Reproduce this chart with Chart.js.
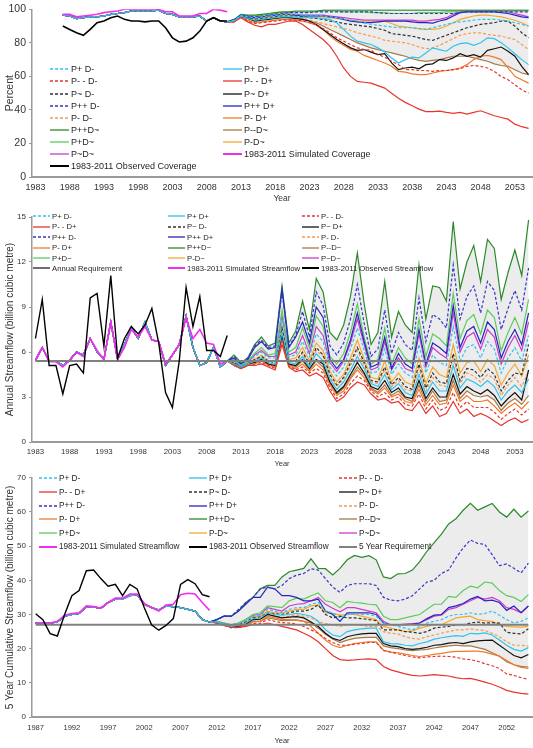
<!DOCTYPE html>
<html>
<head>
<meta charset="utf-8">
<script src="https://cdn.jsdelivr.net/npm/chart.js@4.4.1/dist/chart.umd.min.js"></script>
<style>
  html, body { margin: 0; padding: 0; background: #fff; }
  #wrap { position: relative; width: 533px; height: 748px; overflow: hidden; font-family: 'Liberation Sans', Arial, sans-serif; }
  .panel { position: absolute; left: 0; width: 533px; }
  .lg { position: absolute; display: flex; align-items: center; white-space: nowrap; color: #262626; height: 10px; }
  .lg svg { flex: none; margin-right: 2px; }
</style>
</head>
<body>
<div id="wrap">
  <div class="panel" style="top:0;height:205px"><canvas id="cov"></canvas></div>
  <div class="panel" style="top:205px;height:265px"><canvas id="flow"></canvas></div>
  <div class="panel" style="top:470px;height:278px"><canvas id="cum"></canvas></div>
</div>
<script>
(function () {
  'use strict';

  const FONT = "'Liberation Sans', Arial, sans-serif";
  const TEXT = '#333333';
  const AXIS = '#9a9a9a';
  const END_YEAR = 2055;

  // scenario names, in legend order
  const SCENARIOS = ['P+ D-', 'P+ D+', 'P- - D-', 'P- - D+', 'P~ D-', 'P~ D+', 'P++ D-', 'P++ D+',
    'P- D-', 'P- D+', 'P++D~', 'P--D~', 'P+D~', 'P-D~', 'P~D~'];

  // ---------- Panel 1: coverage (percent), 1987-2011 history, 2012-2055 projections ----------
  const covHist = [96.5, 96, 94.5, 95, 95.5, 95.5, 96, 97, 97.5, 98, 99, 99, 99, 99, 99.5, 97.5, 97, 95.5, 95.5, 95.5, 96, 93, 95, 93, 92.5];
  const covSimulated = [97, 97, 95.5, 96, 96.5, 97, 98, 98.5, 99, 100, 100, 100, 100, 100, 100, 98.5, 98.5, 96, 96, 96, 97.5, 97.5, 100, 99.5, 98.5];
  const covObserved = [90, 88, 86, 84.5, 88, 92, 93, 95, 96, 94, 93, 93, 92.5, 93, 93, 89, 83, 80.5, 81, 83, 87, 93, 95, 93, 93];

  const cov_PpDm = [93.5, 96.5, 95.5, 95, 95.5, 96, 96.5, 97, 97, 97, 96.5, 96.5, 96.5, 96, 95.5, 95, 94, 93.5, 93, 92,
    91, 90.5, 90, 89.5, 89, 89, 89, 88.5, 88, 89, 90, 91, 92, 92.5, 93, 93.5, 94, 94, 94, 93.5, 93, 92, 91, 90];
  const cov_PpDp = [93, 96, 94.5, 93.5, 94, 94.5, 95, 95.5, 95.5, 95.5, 95, 95, 95, 94.5, 94, 92, 88, 84, 81, 80,
    79, 77, 74.5, 71, 68, 70, 71.5, 71, 74, 77, 76, 75, 78, 79.5, 80, 78.5, 80, 83, 82.5, 80, 77, 73.5, 70, 67];
  const cov_PmmDm = [92.5, 95.5, 93, 91.5, 92, 92.5, 93, 93.5, 93.5, 93.5, 93, 92, 91, 88.5, 86, 83, 81, 79, 77, 76,
    75.5, 73, 71.5, 69, 67, 64, 64, 63.5, 63.5, 63, 63.5, 63.5, 64, 64.5, 66, 66.5, 66, 65, 63, 60, 58, 55, 52, 50];
  const cov_PmmDp = [92.5, 95, 92.5, 90.5, 89.5, 91, 91, 92, 93, 93, 91, 88, 85, 82, 78, 72, 65, 60, 57, 56.5,
    56, 54.5, 53, 50, 47, 44.5, 42.5, 40.5, 39, 39, 39.3, 38.5, 38, 38.5, 37.5, 38.5, 39.5, 38, 36.5, 35.5, 34.5, 31.5, 30, 29];
  const cov_PzDm = [93, 96, 95, 94, 94.5, 95, 95.5, 96, 96, 96, 95.5, 95, 94.5, 94, 93, 92.5, 91.5, 91, 90.5, 90,
    89.5, 88.5, 87.5, 85.5, 85, 84.5, 84, 83, 82, 81.5, 83, 84.5, 86, 87.5, 89, 90, 91, 91.5, 92, 93, 93, 90, 86, 83];
  const cov_PzDp = [93, 96, 94.5, 93, 93.5, 94, 94.5, 95, 95, 94.5, 94, 93, 91, 88, 85, 82, 79.5, 77, 75.5, 76,
    74.5, 73, 73.5, 68, 64, 65, 65.5, 64.5, 67, 67.5, 70, 69.5, 71, 73.5, 72, 73, 71.5, 75.5, 76.5, 77.5, 75, 72, 66, 61];
  const cov_PppDm = [94, 96.5, 96, 95.5, 96, 96.5, 97, 97.5, 98, 98, 98, 98, 98.5, 98.5, 98.5, 98.5, 98.5, 98.5, 98.5, 98.5,
    98.5, 98, 97.5, 97.5, 97.5, 97.5, 97.5, 97.5, 97.5, 97.5, 97.5, 97.5, 97.5, 98, 98.5, 98.5, 98.5, 98.5, 98.5, 98.5, 98.5, 98.5, 98.5, 98.5];
  const cov_PppDp = [93.5, 96.5, 95.5, 95, 95.5, 96, 96.5, 97, 97, 96.5, 96, 96, 96, 96, 95.5, 95, 94, 93, 92.5, 92,
    92, 92.5, 93, 93, 93, 93, 92.5, 92, 92, 91.8, 93, 94, 96, 98, 98.5, 98.5, 98.5, 98.5, 98.5, 98, 97.5, 96.5, 95.5, 95];
  const cov_PmDm = [93, 95.5, 94.5, 93.5, 94, 94.5, 95, 95.5, 95.5, 95, 94.5, 93.5, 92.5, 91.5, 90.5, 89.5, 88.5, 87.5, 86, 85,
    84, 83, 81.5, 81, 80.5, 80, 79, 77.5, 76.5, 77, 78.5, 80.5, 82.5, 84.5, 85.5, 86, 86, 85, 84.5, 84, 83, 82, 79, 76];
  const cov_PmDp = [92.5, 95.5, 93.5, 92, 92.5, 93, 93.5, 94, 94, 93.5, 93, 92, 90.5, 88, 84, 81, 78.5, 76, 75, 72.5,
    71, 69.5, 68, 66, 63, 62.5, 61.5, 61, 61, 62, 63, 63.5, 64, 65, 67, 70, 72, 72.5, 71.5, 70, 65, 60, 58, 56];
  const cov_PppDz = [94, 97, 96.5, 96.5, 97, 97.5, 98, 98.5, 98.5, 99, 99, 99, 99, 99.5, 99.5, 99.5, 99.5, 99.5, 99.5, 99.5,
    99.5, 99.5, 99.5, 99.5, 99.5, 99.5, 99.5, 99.5, 99.5, 99.5, 99.5, 99.5, 99.5, 99.5, 99.5, 99.5, 99.5, 99.5, 99.5, 99.5, 99.5, 99.5, 99.5, 99.5];
  const cov_PmmDz = [93, 95.5, 94.5, 93.5, 94, 94.5, 95, 95.5, 95, 94.5, 94, 93, 92, 90, 88, 86, 84, 82, 80, 78.5,
    77, 76, 75, 74, 73, 72, 70.5, 69.5, 69, 69.5, 70, 71, 72, 72, 72, 71, 70, 69, 67.5, 66.5, 66, 64, 62, 61];
  const cov_PpDz = [93.5, 96.5, 96, 96, 96.5, 97, 97.5, 98, 98, 98.5, 98.5, 98.5, 98.5, 99, 99, 99, 98.5, 98.5, 98.5, 98.5,
    98, 98, 98, 97.5, 97.5, 97.5, 97.5, 98, 98, 98, 98, 98.5, 98.5, 99, 99, 99, 99, 99, 99, 99, 99, 99, 99, 99];
  const cov_PmDz = [93, 96, 95, 94.5, 95, 95.5, 96, 96.5, 96.5, 96.5, 96, 96, 96, 95.5, 95, 94.5, 94, 93.5, 93, 92.5,
    92.5, 92.5, 93, 91.5, 90, 89.5, 89, 88.5, 88, 88, 88.5, 90, 92, 94, 95, 96, 96.5, 96.5, 96, 95.5, 94.5, 93.5, 92, 90];
  const cov_PzDz = [93.5, 96.5, 95.5, 95, 95.5, 96, 96.5, 97, 97, 97, 96.5, 96.5, 96.5, 96.5, 96, 95.5, 95, 94.5, 94, 93.5,
    93.5, 93.5, 93.5, 93.5, 93.5, 93.5, 93.5, 93, 93, 93.5, 94, 95, 97, 98.5, 99, 99, 99, 99, 99, 99, 98.5, 97.5, 96.5, 95.5];

  // ---------- Panel 2: annual streamflow (billion m3), 1983-2011 history, 2012-2055 projections ----------
  const ANNUAL_REQUIREMENT = 5.4;
  const flowHist = [5.45, 6.3, 5.4, 5.4, 5.1, 5.45, 6.0, 5.8, 6.9, 6.0, 5.5, 8.0, 5.5, 6.5, 7.6, 6.9, 8.0, 6.8, 6.7, 5.1, 5.8, 6.5, 8.4, 6.3, 5.1, 5.3, 6.3, 5.0, 5.4];
  const flowSimulated = [5.45, 6.3, 5.35, 5.35, 5.0, 5.45, 6.0, 5.7, 6.9, 6.1, 5.5, 8.0, 5.5, 6.3, 7.5, 7.0, 7.7, 6.8, 6.7, 5.2, 5.8, 6.5, 8.3, 6.9, 7.5, 6.6, 6.5, 5.2, 5.4];
  const flowObserved = [6.9, 9.5, 5.1, 5.1, 3.2, 5.1, 5.2, 4.6, 9.6, 9.9, 6.4, 11.1, 5.6, 6.9, 7.7, 7.2, 7.8, 8.9, 6.6, 3.3, 2.3, 5.4, 10.3, 7.7, 9.7, 6.1, 6.1, 5.7, 7.1];

  const flow_PpDm = [5.4, 5.1, 5.3, 5.7, 6.0, 5.6, 5.6, 8.1, 5.7, 5.8, 6.7, 5.7, 7.2, 6.7, 5.0, 4.4, 5.0, 6.2, 7.6, 6.1,
    4.6, 4.7, 6.2, 4.5, 5.2, 4.6, 4.3, 6.5, 4.6, 5.8, 5.3, 5.1, 7.7, 5.4, 6.3, 6.5, 5.6, 6.7, 6.2, 4.6, 5.6, 6.3, 5.4, 7.1];
  const flow_PpDp = [5.2, 5.0, 5.2, 5.4, 5.6, 5.3, 5.2, 7.3, 5.3, 5.2, 5.7, 5.0, 5.9, 5.4, 4.2, 3.5, 4.0, 4.8, 5.7, 4.9,
    3.9, 3.7, 4.5, 3.5, 3.9, 3.3, 3.1, 4.5, 3.2, 4.0, 3.4, 3.4, 5.1, 3.6, 4.2, 4.0, 3.7, 4.1, 3.7, 2.8, 3.4, 3.8, 3.3, 4.2];
  const flow_PmmDm = [5.1, 4.9, 5.1, 5.2, 5.3, 5.1, 4.9, 6.7, 5.1, 4.8, 5.0, 4.6, 4.9, 4.6, 3.6, 2.9, 3.2, 3.9, 4.4, 4.1,
    3.4, 3.0, 3.3, 2.8, 3.0, 2.5, 2.4, 3.2, 2.2, 2.8, 2.1, 2.3, 3.3, 2.3, 2.7, 2.3, 2.3, 2.3, 2.0, 1.5, 1.9, 2.2, 1.8, 2.2];
  const flow_PmmDp = [5.1, 4.9, 5.1, 5.1, 5.2, 5.0, 4.8, 6.5, 5.0, 4.7, 4.8, 4.4, 4.6, 4.3, 3.4, 2.7, 3.0, 3.6, 4.0, 3.8,
    3.2, 2.8, 2.9, 2.6, 2.7, 2.2, 2.1, 2.7, 1.9, 2.4, 1.7, 1.9, 2.7, 1.9, 2.2, 1.7, 1.9, 1.7, 1.4, 1.1, 1.4, 1.6, 1.3, 1.5];
  const flow_PzDm = [5.3, 5.0, 5.2, 5.5, 5.7, 5.4, 5.3, 7.6, 5.4, 5.4, 6.0, 5.2, 6.3, 5.8, 4.5, 3.8, 4.3, 5.3, 6.3, 5.3,
    4.1, 4.0, 5.0, 3.8, 4.3, 3.7, 3.5, 5.2, 3.6, 4.6, 4.0, 3.9, 5.9, 4.1, 4.9, 4.8, 4.3, 4.9, 4.5, 3.4, 4.1, 4.6, 4.5, 6.5];
  const flow_PzDp = [5.2, 5.0, 5.2, 5.3, 5.5, 5.2, 5.1, 7.1, 5.2, 5.1, 5.5, 4.9, 5.5, 5.2, 4.0, 3.3, 3.7, 4.5, 5.3, 4.6,
    3.7, 3.5, 4.1, 3.3, 3.6, 3.0, 2.9, 4.1, 2.9, 3.6, 3.0, 3.0, 4.5, 3.2, 3.7, 3.4, 3.2, 3.5, 3.1, 2.4, 2.9, 3.3, 2.8, 4.8];
  const flow_PppDm = [5.7, 5.3, 5.6, 6.4, 6.8, 6.3, 6.4, 10.0, 6.4, 7.1, 8.7, 7.0, 10.0, 9.1, 6.4, 5.8, 6.6, 8.2, 10.5, 7.9,
    5.7, 6.2, 8.8, 5.9, 7.3, 6.5, 6.1, 9.6, 6.7, 8.5, 8.2, 7.6, 11.8, 8.2, 9.7, 10.4, 8.6, 10.7, 10.1, 7.5, 8.9, 10.1, 8.8, 11.6];
  const flow_PppDp = [5.6, 5.2, 5.5, 6.3, 6.7, 6.2, 6.3, 10.2, 6.3, 7.0, 8.0, 6.6, 9.0, 8.3, 5.5, 4.9, 5.5, 6.8, 8.6, 6.7,
    5.0, 5.2, 7.0, 4.9, 5.9, 5.2, 4.9, 7.5, 5.2, 6.6, 6.3, 5.9, 9.1, 6.3, 7.4, 7.7, 6.6, 8.0, 7.5, 5.6, 6.7, 7.5, 6.5, 8.6];
  const flow_PmDm = [5.3, 5.0, 5.2, 5.4, 5.6, 5.3, 5.2, 7.4, 5.4, 5.3, 5.9, 5.1, 6.1, 5.7, 4.3, 3.7, 4.2, 5.1, 6.1, 5.1,
    4.0, 3.9, 4.8, 3.7, 4.1, 3.5, 3.4, 4.9, 3.4, 4.3, 3.8, 3.7, 5.6, 3.9, 4.6, 4.4, 4.0, 4.5, 4.2, 3.1, 3.8, 4.3, 3.7, 4.7];
  const flow_PmDp = [5.2, 4.9, 5.1, 5.2, 5.4, 5.1, 5.0, 6.9, 5.1, 4.9, 5.2, 4.7, 5.2, 4.8, 3.8, 3.1, 3.4, 4.2, 4.8, 4.3,
    3.5, 3.2, 3.6, 3.0, 3.2, 2.7, 2.6, 3.5, 2.5, 3.1, 2.5, 2.6, 3.8, 2.7, 3.1, 2.7, 2.7, 2.8, 2.4, 1.9, 2.3, 2.6, 2.2, 2.7];
  const flow_PppDz = [5.8, 5.3, 5.6, 6.5, 7.0, 6.4, 6.6, 10.4, 6.6, 7.4, 9.4, 7.5, 10.9, 10.0, 7.3, 6.8, 7.8, 9.7, 12.6, 9.2,
    6.5, 7.3, 10.7, 7.0, 8.7, 7.8, 7.3, 11.8, 8.2, 10.4, 10.3, 9.4, 14.7, 10.2, 12.0, 13.1, 10.7, 13.5, 12.9, 9.5, 11.3, 12.8, 11.1, 14.8];
  const flow_PmmDz = [5.2, 5.0, 5.2, 5.3, 5.4, 5.2, 5.0, 7.0, 5.2, 5.0, 5.4, 4.8, 5.4, 5.0, 3.9, 3.2, 3.6, 4.3, 5.0, 4.5,
    3.6, 3.3, 3.8, 3.1, 3.4, 2.9, 2.7, 3.8, 2.7, 3.4, 2.7, 2.8, 4.1, 2.9, 3.4, 3.1, 3.0, 3.1, 2.8, 2.1, 2.6, 2.9, 2.5, 3.1];
  const flow_PpDz = [5.5, 5.1, 5.4, 5.9, 6.3, 5.8, 5.9, 8.8, 6.0, 6.3, 7.6, 6.3, 8.4, 7.7, 5.7, 5.2, 5.9, 7.3, 9.2, 7.0,
    5.2, 5.5, 7.6, 5.2, 6.3, 5.6, 5.2, 8.2, 5.7, 7.2, 6.9, 6.4, 9.9, 6.9, 8.1, 8.5, 7.2, 8.8, 8.3, 6.1, 7.3, 8.3, 7.2, 9.5];
  const flow_PmDz = [5.3, 5.0, 5.3, 5.5, 5.8, 5.4, 5.4, 7.7, 5.5, 5.6, 6.3, 5.4, 6.6, 6.1, 4.7, 4.0, 4.5, 5.6, 6.8, 5.5,
    4.3, 4.2, 5.4, 4.0, 4.6, 4.0, 3.8, 5.6, 3.9, 5.0, 4.5, 4.3, 6.5, 4.6, 5.3, 5.4, 4.7, 5.5, 5.1, 3.8, 4.6, 5.2, 4.4, 5.8];
  const flow_PzDz = [5.4, 5.1, 5.3, 5.8, 6.1, 5.7, 5.7, 8.4, 5.8, 6.0, 7.1, 5.9, 7.7, 7.1, 5.3, 4.7, 5.4, 6.6, 8.2, 6.5,
    4.8, 5.0, 6.7, 4.8, 5.6, 4.9, 4.7, 7.2, 5.0, 6.3, 5.9, 5.6, 8.6, 6.0, 7.0, 7.3, 6.2, 7.5, 7.0, 5.2, 6.3, 7.1, 6.1, 8.0];

  // ---------- Panel 3: 5-year cumulative streamflow, 1987-2011 history, 2012-2055 projections ----------
  const FIVE_YEAR_REQUIREMENT = 27.0;
  const cumHist = [27.5, 27.5, 27.5, 27.8, 29.5, 30, 30.3, 32.3, 32.2, 31.8, 33.5, 34.5, 34.5, 35.5, 35.8, 33, 32, 31.3, 32.5, 32.3, 32, 31.5, 31, 28.5, 27.8];
  const cumSimulated = [27.5, 27.5, 27.5, 28, 29.8, 30.3, 30.5, 32.5, 32.3, 31.8, 33.5, 34.8, 34.8, 36, 36, 33.2, 32, 31, 32.8, 33, 35.8, 36.2, 36, 33.5, 31.2];
  const cumObserved = [30.2, 28.5, 24.4, 23.7, 30, 35.5, 37, 42.8, 43, 40.5, 38.3, 38.8, 35.5, 38.8, 37.5, 32, 27, 25.4, 26.8, 28.8, 38.8, 40.2, 39, 35.8, 35.2];

  const cum_PpDm = [28, 27.3, 26.8, 27.3, 28.2, 29.5, 29.8, 31.5, 31, 30.5, 31.5, 32, 32, 33, 33.5, 31, 30.5, 29, 30, 30.2,
    30, 30, 29.5, 27.5, 27, 26.5, 26, 25.5, 26.5, 27.5, 28, 28.5, 29.5, 30, 30, 30.5, 30, 30.3, 31, 29.8, 28.5, 27.5, 28, 29];
  const cum_PpDp = [27.8, 27, 26.5, 26.8, 27.5, 28.8, 29, 30.5, 30, 29.8, 30, 30.3, 30, 29.5, 28, 25.5, 24, 23.5, 25, 25.5,
    25.8, 26, 26, 22, 21.5, 21.4, 21, 20.8, 21.5, 22, 22.8, 23.2, 23.5, 23.8, 23.6, 24.5, 24.3, 24.6, 24, 22.5, 21, 19.8, 19.3, 20.3];
  const cum_PmmDm = [27.5, 26.8, 26.1, 26.2, 26.6, 27.4, 27.4, 28.5, 28, 27.6, 27.5, 27.2, 26.5, 25.5, 24.5, 23, 21.8, 21, 21, 21.3,
    21.5, 21.8, 21.8, 19.5, 19, 18.5, 18, 17.6, 17.3, 17.6, 17.7, 17.8, 17.7, 17.5, 17, 16.8, 16.3, 15.6, 15, 14.2, 12.6, 12.2, 11.5, 11];
  const cum_PmmDp = [27.5, 27, 26.2, 26.2, 26.5, 27, 27, 27.5, 27, 26.5, 26, 25.5, 24.5, 23.5, 22, 20, 18, 16.8, 16.6, 16.7,
    16.9, 17, 16.8, 14.8, 13.8, 13.2, 12.6, 12.2, 12, 12.2, 12.4, 12.2, 12, 11.5, 11.2, 11.3, 10.8, 10.2, 9.6, 8.8, 7.8, 7.3, 6.9, 6.7];
  const cum_PzDm = [27.8, 27.2, 26.7, 27, 27.8, 29, 29.2, 30.5, 30.2, 30, 30.5, 31, 31, 31.5, 32.8, 30, 29, 29.5, 29, 29,
    28.8, 28.5, 28.2, 25.5, 25.5, 25.5, 25, 24.8, 24.5, 25, 26, 26.3, 26.5, 27, 27, 27.5, 27.8, 27.5, 27.6, 27.5, 24.8, 24.5, 24.3, 25.8];
  const cum_PzDp = [27.6, 27, 26.4, 26.6, 27.2, 28.5, 28.6, 30, 29.5, 29, 29.2, 29.4, 29, 27.8, 26.5, 24.5, 23, 22.4, 23.5, 24,
    24.3, 24.5, 24.5, 21.5, 20.8, 20.6, 20, 19.8, 20, 20.4, 21, 21.2, 21.6, 21.8, 21.5, 22, 22.3, 22.4, 22.5, 21, 19.5, 18, 17.3, 18.3];
  const cum_PppDm = [28.5, 29.5, 29.5, 31.5, 33.5, 35, 37.5, 38, 37.5, 38.5, 40.5, 41.5, 42, 43.4, 43, 40.5, 38, 36.5, 38.5, 39,
    39, 39, 38.5, 35, 34.2, 34, 34.5, 35.5, 37.5, 39.5, 40, 42, 43, 46.5, 49.5, 51.8, 50.8, 50.5, 47.5, 44.3, 44.8, 43.5, 42.2, 45];
  const cum_PppDp = [28.5, 29.5, 29.5, 31, 33, 35, 35, 38, 37.5, 35.5, 35.5, 35, 34, 34, 34.5, 31, 30, 28, 30.5, 30.5,
    30.5, 30.5, 30, 27.5, 27, 27, 27, 27.2, 27.5, 28.8, 29.8, 30, 32, 32.5, 33.2, 34.5, 35.3, 34, 34.2, 33.5, 31.2, 32.5, 30.5, 32.5];
  const cum_PmDm = [27.8, 27.1, 26.5, 26.8, 27.5, 28.5, 28.8, 30, 29.5, 29.2, 29.5, 29.8, 29.5, 29, 28, 27.3, 27, 26.5, 27, 27,
    26.8, 26.5, 26.5, 25, 24.5, 24.3, 23.5, 23, 22.8, 23.5, 24, 24.5, 25, 25.5, 25.5, 25.8, 25.5, 25.3, 24.5, 23.5, 22, 21, 21, 20.8];
  const cum_PmDp = [27.5, 26.8, 26.2, 26.3, 26.8, 27.8, 28, 29.5, 29, 28.5, 28.5, 28.3, 28, 26.5, 24.5, 22.5, 21, 20.3, 21, 21.5,
    21.8, 22, 22, 19.5, 19, 18.8, 18.4, 18, 17.7, 18, 18.3, 18.6, 19, 19.2, 19.2, 19.3, 19.3, 19, 18.4, 17.8, 16.5, 15.3, 14.5, 14.2];
  const cum_PppDz = [28.5, 29.5, 29.5, 31, 33.5, 35, 37.5, 38.5, 38.5, 41, 42.5, 43, 43.5, 46.3, 43.5, 43.4, 41.6, 43.5, 46, 47.3,
    46.7, 47.2, 46, 41, 40.5, 41.9, 42, 43, 45.5, 48.5, 51, 53.5, 56.5, 58, 60.5, 62.5, 60.5, 61.5, 62.5, 60, 58.5, 60.8, 58.5, 60.3];
  const cum_PmmDz = [27.6, 27, 26.3, 26.5, 27, 28, 28, 29, 28.6, 28.2, 28.3, 28.4, 28, 27.5, 26, 24.2, 22.8, 21.8, 22.5, 23,
    23.2, 23.3, 23.3, 20.8, 20.3, 20, 19.6, 19.4, 19.6, 19.8, 20.2, 20.5, 20.8, 21, 20.8, 20.8, 20.3, 19.8, 18.8, 17.8, 16.2, 15.3, 14.8, 14.6];
  const cum_PpDz = [28, 27.5, 27, 27.5, 28.5, 30, 30.5, 32.5, 32.3, 32, 34, 34.8, 34.5, 35.5, 36.3, 34, 33.5, 32, 33.8, 33.5,
    33.3, 33, 32.8, 29.5, 28.5, 28.5, 29, 29.5, 30, 31.5, 33, 33, 35.3, 35, 37, 38.3, 37.8, 39.5, 39.2, 37, 35.5, 35, 33.8, 35.8];
  const cum_PmDz = [28, 27.3, 26.8, 27.2, 28, 29.3, 29.5, 31, 30.5, 30.5, 31, 31.5, 31.5, 32.5, 32.8, 30.5, 30.3, 29.8, 30, 30,
    29.5, 29, 28.5, 26.5, 26, 25.5, 25, 25.2, 26, 26.5, 27, 27, 28, 29, 29.3, 29.5, 28.5, 28.2, 28, 27, 26.5, 26.4, 26.3, 26.5];
  const cum_PzDz = [28, 27.5, 27, 27.5, 28.5, 29.8, 30, 32, 31.5, 31, 32.5, 33, 33.2, 34, 35, 33, 31.8, 30.8, 32, 32,
    31.5, 31, 30.5, 28, 27, 27, 27.2, 27.3, 27.5, 28.5, 29.5, 29.8, 31.5, 32, 33, 34, 35, 34.5, 35, 34, 32, 31.5, 30.5, 32.5];

  // ---------- styles ----------
  const SCEN_COLORS = ['#2fc3ee', '#2fc3ee', '#e8352c', '#e8352c', '#303030', '#111111', '#3535cc', '#2626bf',
    '#f59a50', '#f07a2a', '#2a8a2a', '#a87848', '#5ccc5c', '#f2a92e', '#cc3ccc'];
  const SCEN_DASHED = [true, false, true, false, true, false, true, false, true, false, false, false, false, false, false];
  const DASH = [3, 2];
  const SIM_COLOR = '#f02ef0';
  const REQ_COLOR = '#808080';

  function yearsFrom(start) {
    const out = [];
    for (let y = start; y <= END_YEAR; y++) out.push(y);
    return out;
  }
  function placeOn(years, arr, from) {
    return years.map(y => { const i = y - from; return (i >= 0 && i < arr.length) ? arr[i] : null; });
  }
  function line(label, data, color, width, dash) {
    return { label, data, borderColor: color, backgroundColor: color, borderWidth: width, borderDash: dash || [],
      pointRadius: 0, pointHoverRadius: 0, tension: 0, fill: false, spanGaps: false };
  }

  function buildPanel(cfg) {
    const years = yearsFrom(cfg.start);
    const datasets = [];
    cfg.extras.forEach(e => datasets.push(line(e.label, placeOn(years, e.data, e.from), e.color, e.width)));
    const first = datasets.length;
    cfg.proj.forEach((p, k) => {
      datasets.push(line(SCENARIOS[k], placeOn(years, cfg.hist.concat(p), cfg.histStart), SCEN_COLORS[k], 1.2, SCEN_DASHED[k] ? DASH : []));
    });
    // grey envelope between P++D~ and P--D~
    const top = datasets[first + 10];
    top.fill = { target: first + 11 };
    top.backgroundColor = '#ececec';

    new Chart(document.getElementById(cfg.id), {
      type: 'line',
      data: { labels: years, datasets },
      options: {
        responsive: true, maintainAspectRatio: false, animation: false,
        layout: { padding: cfg.padding },
        plugins: { legend: { display: false }, tooltip: { enabled: false },
          filler: { propagate: false, drawTime: 'beforeDatasetsDraw' } },
        scales: {
          x: {
            type: 'category', offset: true,
            grid: { display: false, drawTicks: false },
            border: { display: true, color: AXIS, width: 2 },
            ticks: { autoSkip: false, maxRotation: 0, padding: cfg.xPad, color: TEXT,
              font: { family: FONT, size: cfg.xFont },
              callback: (v, i) => ((years[i] - cfg.start) % 5 === 0 ? String(years[i]) : null) },
            title: { display: true, text: 'Year', color: TEXT, font: { family: FONT, size: cfg.yearFont }, padding: { top: 0, bottom: cfg.yearPad } },
            afterFit: s => { s.height = cfg.xHeight; }
          },
          y: {
            min: 0, max: cfg.yMax,
            grid: { display: true, drawOnChartArea: false, drawTicks: true, tickLength: 3, color: AXIS },
            border: { display: true, color: AXIS, width: 1.5 },
            ticks: { stepSize: cfg.yStep, padding: 3, color: TEXT, font: { family: FONT, size: cfg.yFont } },
            title: { display: true, text: cfg.yTitle, color: TEXT, font: { family: FONT, size: cfg.titleFont }, padding: { top: 4, bottom: 0 } },
            afterFit: s => { s.width = 32; }
          }
        }
      }
    });

    // legend drawn as real text over the plot
    const wrap = document.getElementById('wrap');
    const items = SCENARIOS.map((name, k) => ({ name, color: SCEN_COLORS[k], dash: SCEN_DASHED[k] ? DASH : [], width: 1.3 }))
      .concat(cfg.legendExtras);
    const L = cfg.legend;
    items.forEach((it, i) => {
      const col = i % L.cols, row = Math.floor(i / L.cols);
      const d = document.createElement('div');
      d.className = 'lg';
      d.style.left = L.x[col] + 'px';
      d.style.top = (L.y0 + row * L.dy - 5) + 'px';
      d.style.fontSize = L.font + 'px';
      const ns = 'http://www.w3.org/2000/svg';
      const svg = document.createElementNS(ns, 'svg');
      svg.setAttribute('width', L.len); svg.setAttribute('height', 6);
      const ln = document.createElementNS(ns, 'line');
      ln.setAttribute('x1', 0); ln.setAttribute('y1', 3); ln.setAttribute('x2', L.len); ln.setAttribute('y2', 3);
      ln.setAttribute('stroke', it.color); ln.setAttribute('stroke-width', it.width);
      if (it.dash.length) ln.setAttribute('stroke-dasharray', it.dash.join(','));
      svg.appendChild(ln);
      const sp = document.createElement('span');
      sp.textContent = it.name;
      d.appendChild(svg); d.appendChild(sp);
      wrap.appendChild(d);
    });
  }

  const covProj = [cov_PpDm, cov_PpDp, cov_PmmDm, cov_PmmDp, cov_PzDm, cov_PzDp, cov_PppDm, cov_PppDp,
    cov_PmDm, cov_PmDp, cov_PppDz, cov_PmmDz, cov_PpDz, cov_PmDz, cov_PzDz];
  const flowProj = [flow_PpDm, flow_PpDp, flow_PmmDm, flow_PmmDp, flow_PzDm, flow_PzDp, flow_PppDm, flow_PppDp,
    flow_PmDm, flow_PmDp, flow_PppDz, flow_PmmDz, flow_PpDz, flow_PmDz, flow_PzDz];
  const cumProj = [cum_PpDm, cum_PpDp, cum_PmmDm, cum_PmmDp, cum_PzDm, cum_PzDp, cum_PppDm, cum_PppDp,
    cum_PmDm, cum_PmDp, cum_PppDz, cum_PmmDz, cum_PpDz, cum_PmDz, cum_PzDz];

  function init() {
    buildPanel({
      id: 'cov', start: 1983, histStart: 1987, hist: covHist, proj: covProj,
      extras: [
        { label: '1983-2011 Observed Coverage', data: covObserved, from: 1987, color: '#000000', width: 1.6 },
        { label: '1983-2011 Simulated Coverage', data: covSimulated, from: 1987, color: SIM_COLOR, width: 1.6 }
      ],
      legendExtras: [
        { name: '1983-2011 Simulated Coverage', color: SIM_COLOR, dash: [], width: 2 },
        { name: '1983-2011 Observed Coverage', color: '#000000', dash: [], width: 2 }
      ],
      padding: { top: 4, right: 1, left: 0, bottom: 0 },
      yMax: 100, yStep: 20, yTitle: 'Percent', yFont: 10.5, titleFont: 10.5,
      xFont: 9, xPad: 5, xHeight: 28, yearFont: 8.5, yearPad: 1,
      legend: { cols: 2, x: [50, 223], y0: 69.3, dy: 12.1, len: 19, font: 9 }
    });

    const flowYears = yearsFrom(1983);
    buildPanel({
      id: 'flow', start: 1983, histStart: 1983, hist: flowHist, proj: flowProj,
      extras: [
        { label: '1983-2011 Observed Streamflow', data: flowObserved, from: 1983, color: '#000000', width: 1.4 },
        { label: 'Annual Requirement', data: flowYears.map(() => ANNUAL_REQUIREMENT), from: 1983, color: REQ_COLOR, width: 2 },
        { label: '1983-2011 Simulated Streamflow', data: flowSimulated, from: 1983, color: SIM_COLOR, width: 1.6 }
      ],
      legendExtras: [
        { name: 'Annual Requirement', color: '#404040', dash: [], width: 1.5 },
        { name: '1983-2011 Simulated Streamflow', color: SIM_COLOR, dash: [], width: 2 },
        { name: '1983-2011 Observed Streamflow', color: '#000000', dash: [], width: 2 }
      ],
      padding: { top: 12, right: 1, left: 0, bottom: 0 },
      yMax: 15, yStep: 3, yTitle: 'Annual Streamflow (billion cubic metre)', yFont: 8, titleFont: 10,
      xFont: 7.8, xPad: 5, xHeight: 28, yearFont: 7.5, yearPad: 2,
      legend: { cols: 3, x: [33, 168, 302], y0: 216.2, dy: 10.45, len: 17, font: 7.7 }
    });

    const cumYears = yearsFrom(1987);
    buildPanel({
      id: 'cum', start: 1987, histStart: 1987, hist: cumHist, proj: cumProj,
      extras: [
        { label: '1983-2011 Observed Streamflow', data: cumObserved, from: 1987, color: '#000000', width: 1.4 },
        { label: '5 Year Requirement', data: cumYears.map(() => FIVE_YEAR_REQUIREMENT), from: 1987, color: REQ_COLOR, width: 2 },
        { label: '1983-2011 Simulated Streamflow', data: cumSimulated, from: 1987, color: SIM_COLOR, width: 1.6 }
      ],
      legendExtras: [
        { name: '1983-2011 Simulated Streamflow', color: SIM_COLOR, dash: [], width: 2 },
        { name: '1983-2011 Observed Streamflow', color: '#000000', dash: [], width: 2 },
        { name: '5 Year Requirement', color: REQ_COLOR, dash: [], width: 2 }
      ],
      padding: { top: 7, right: 1, left: 0, bottom: 0 },
      yMax: 70, yStep: 10, yTitle: '5 Year Cumulative Streamflow (billion cubic metre)', yFont: 8, titleFont: 10,
      xFont: 7.6, xPad: 6, xHeight: 31, yearFont: 7.5, yearPad: 3,
      legend: { cols: 3, x: [39, 189, 339], y0: 478.3, dy: 13.7, len: 18, font: 8.2 }
    });
  }

  if (document.readyState === 'loading') document.addEventListener('DOMContentLoaded', init); else init();
})();
</script>
</body>
</html>
